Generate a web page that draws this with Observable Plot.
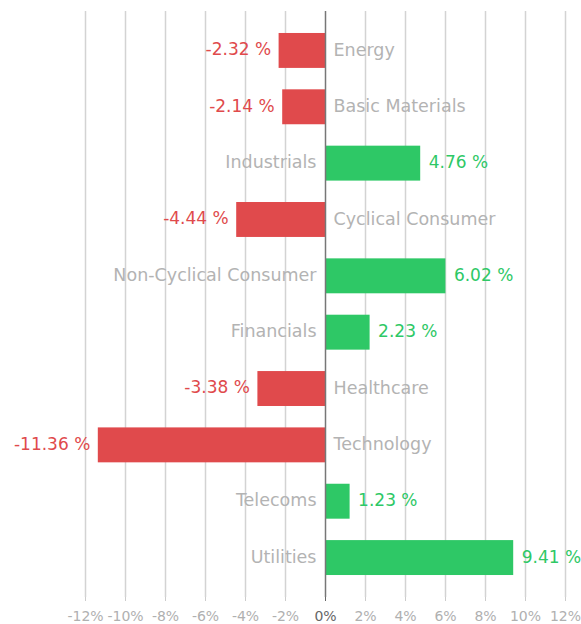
<!DOCTYPE html>
<html>
<head>
<meta charset="utf-8">
<script src="https://cdn.jsdelivr.net/npm/d3@7"></script>
<script src="https://cdn.jsdelivr.net/npm/@observablehq/plot@0.6"></script>
<style>
  html, body { margin: 0; padding: 0; background: #fff; }
  svg { display: block; }
</style>
</head>
<body>
<div id="chart"></div>
<script>
const categories = ["Energy", "Basic Materials", "Industrials", "Cyclical Consumer", "Non-Cyclical Consumer", "Financials", "Healthcare", "Technology", "Telecoms", "Utilities"];
const values = [-2.32, -2.14, 4.76, -4.44, 6.02, 2.23, -3.38, -11.36, 1.23, 9.41];
const tickValues = [-12, -10, -8, -6, -4, -2, 0, 2, 4, 6, 8, 10, 12];

const data = categories.map((c, i) => ({category: c, value: values[i]}));
const neg = data.filter(d => d.value < 0);
const pos = data.filter(d => d.value >= 0);
const RED = "#e04a4c", GREEN = "#2ec866", GRAY = "#b3b3b3";
const fmt = d => d.value.toFixed(2) + " %";

const chart = Plot.plot({
  width: 581,
  height: 624,
  marginLeft: 85,
  marginRight: 16,
  marginTop: 11,
  marginBottom: 27,
  style: {fontFamily: "DejaVu Sans", background: "#fff"},
  x: {domain: [-12, 12], label: null},
  y: {domain: categories, paddingInner: 0.38, paddingOuter: 0.39, round: false, axis: null},
  marks: [
    Plot.ruleX(tickValues.filter(t => t !== 0), {stroke: "#d3d3d3", strokeWidth: 1.5}),
    Plot.barX(neg, {x: "value", y: "category", fill: RED}),
    Plot.barX(pos, {x: "value", y: "category", fill: GREEN}),
    Plot.ruleX([0], {stroke: "#777", strokeWidth: 1.5}),
    Plot.text(neg, {x: "value", y: "category", text: fmt, textAnchor: "end", dx: -8, dy: -1, fill: RED, fontSize: 17}),
    Plot.text(pos, {x: "value", y: "category", text: fmt, textAnchor: "start", dx: 8, dy: -1, fill: GREEN, fontSize: 17}),
    Plot.text(neg, {x: 0, y: "category", text: "category", textAnchor: "start", dx: 8, dy: -1, fill: GRAY, fontSize: 17.5}),
    Plot.text(pos, {x: 0, y: "category", text: "category", textAnchor: "end", dx: -9, dy: -1, fill: GRAY, fontSize: 17.5}),
    Plot.axisX(tickValues.filter(t => t !== 0), {tickFormat: d => d + "%", tickSize: 4, tickPadding: 10, fontSize: 14, color: "#b0b0b0", stroke: "#ccc", label: null}),
    Plot.axisX([0], {tickFormat: d => d + "%", tickSize: 4, tickPadding: 10, fontSize: 14, color: "#666", label: null})
  ]
});
document.getElementById("chart").appendChild(chart);
</script>
</body>
</html>
